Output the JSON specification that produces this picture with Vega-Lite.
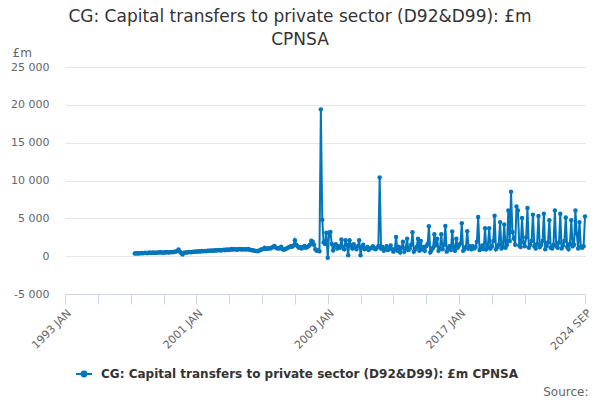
{
  "$schema": "https://vega.github.io/schema/vega-lite/v6.json",
  "width": 520,
  "height": 227,
  "autosize": {"type": "none"},
  "padding": {"left": 65, "top": 67, "right": 15, "bottom": 106},
  "background": "white",
  "title": {
    "text": ["CG: Capital transfers to private sector (D92&D99): £m", "CPNSA"],
    "font": "DejaVu Sans",
    "fontSize": 17,
    "fontWeight": "normal",
    "color": "#333333",
    "anchor": "middle",
    "dx": -25,
    "offset": -3,
    "lineHeight": 23
  },
  "config": {
    "view": {"stroke": null},
    "font": "DejaVu Sans"
  },
  "data": {
    "values": [
      {"month": "1997-04", "value": 350}, {"month": "1997-05", "value": 380}, {"month": "1997-06", "value": 340},
      {"month": "1997-07", "value": 400}, {"month": "1997-08", "value": 370}, {"month": "1997-09", "value": 420},
      {"month": "1997-10", "value": 390}, {"month": "1997-11", "value": 410}, {"month": "1997-12", "value": 450},
      {"month": "1998-01", "value": 400}, {"month": "1998-02", "value": 430}, {"month": "1998-03", "value": 480},
      {"month": "1998-04", "value": 420}, {"month": "1998-05", "value": 450}, {"month": "1998-06", "value": 470},
      {"month": "1998-07", "value": 430}, {"month": "1998-08", "value": 460}, {"month": "1998-09", "value": 500},
      {"month": "1998-10", "value": 470}, {"month": "1998-11", "value": 520}, {"month": "1998-12", "value": 480},
      {"month": "1999-01", "value": 460}, {"month": "1999-02", "value": 490}, {"month": "1999-03", "value": 550},
      {"month": "1999-04", "value": 500}, {"month": "1999-05", "value": 470}, {"month": "1999-06", "value": 520},
      {"month": "1999-07", "value": 560}, {"month": "1999-08", "value": 530}, {"month": "1999-09", "value": 600},
      {"month": "1999-10", "value": 580}, {"month": "1999-11", "value": 700}, {"month": "1999-12", "value": 880},
      {"month": "2000-01", "value": 600}, {"month": "2000-02", "value": 400}, {"month": "2000-03", "value": 220},
      {"month": "2000-04", "value": 450}, {"month": "2000-05", "value": 500}, {"month": "2000-06", "value": 480},
      {"month": "2000-07", "value": 520}, {"month": "2000-08", "value": 550}, {"month": "2000-09", "value": 530},
      {"month": "2000-10", "value": 560}, {"month": "2000-11", "value": 600}, {"month": "2000-12", "value": 580},
      {"month": "2001-01", "value": 620}, {"month": "2001-02", "value": 600}, {"month": "2001-03", "value": 650},
      {"month": "2001-04", "value": 620}, {"month": "2001-05", "value": 680}, {"month": "2001-06", "value": 640},
      {"month": "2001-07", "value": 700}, {"month": "2001-08", "value": 660}, {"month": "2001-09", "value": 720},
      {"month": "2001-10", "value": 690}, {"month": "2001-11", "value": 740}, {"month": "2001-12", "value": 700},
      {"month": "2002-01", "value": 760}, {"month": "2002-02", "value": 720}, {"month": "2002-03", "value": 800},
      {"month": "2002-04", "value": 740}, {"month": "2002-05", "value": 780}, {"month": "2002-06", "value": 820},
      {"month": "2002-07", "value": 760}, {"month": "2002-08", "value": 800}, {"month": "2002-09", "value": 850},
      {"month": "2002-10", "value": 780}, {"month": "2002-11", "value": 880}, {"month": "2002-12", "value": 820},
      {"month": "2003-01", "value": 880}, {"month": "2003-02", "value": 850}, {"month": "2003-03", "value": 950},
      {"month": "2003-04", "value": 870}, {"month": "2003-05", "value": 900}, {"month": "2003-06", "value": 920},
      {"month": "2003-07", "value": 860}, {"month": "2003-08", "value": 900}, {"month": "2003-09", "value": 940},
      {"month": "2003-10", "value": 880}, {"month": "2003-11", "value": 920}, {"month": "2003-12", "value": 900},
      {"month": "2004-01", "value": 880}, {"month": "2004-02", "value": 900}, {"month": "2004-03", "value": 950},
      {"month": "2004-04", "value": 850}, {"month": "2004-05", "value": 820}, {"month": "2004-06", "value": 780},
      {"month": "2004-07", "value": 750}, {"month": "2004-08", "value": 700}, {"month": "2004-09", "value": 680},
      {"month": "2004-10", "value": 650}, {"month": "2004-11", "value": 750}, {"month": "2004-12", "value": 850},
      {"month": "2005-01", "value": 900}, {"month": "2005-02", "value": 950}, {"month": "2005-03", "value": 1100},
      {"month": "2005-04", "value": 950}, {"month": "2005-05", "value": 1000}, {"month": "2005-06", "value": 1050},
      {"month": "2005-07", "value": 1000}, {"month": "2005-08", "value": 1100}, {"month": "2005-09", "value": 1200},
      {"month": "2005-10", "value": 1350}, {"month": "2005-11", "value": 1150}, {"month": "2005-12", "value": 1050},
      {"month": "2006-01", "value": 1000}, {"month": "2006-02", "value": 1050}, {"month": "2006-03", "value": 1250},
      {"month": "2006-04", "value": 900}, {"month": "2006-05", "value": 850}, {"month": "2006-06", "value": 950},
      {"month": "2006-07", "value": 1000}, {"month": "2006-08", "value": 1100}, {"month": "2006-09", "value": 1200},
      {"month": "2006-10", "value": 1300}, {"month": "2006-11", "value": 1250}, {"month": "2006-12", "value": 1400},
      {"month": "2007-01", "value": 2100}, {"month": "2007-02", "value": 1500}, {"month": "2007-03", "value": 1300},
      {"month": "2007-04", "value": 1100}, {"month": "2007-05", "value": 1200}, {"month": "2007-06", "value": 1000},
      {"month": "2007-07", "value": 1150}, {"month": "2007-08", "value": 1350}, {"month": "2007-09", "value": 1100},
      {"month": "2007-10", "value": 1200}, {"month": "2007-11", "value": 1300}, {"month": "2007-12", "value": 1500},
      {"month": "2008-01", "value": 2050}, {"month": "2008-02", "value": 1900}, {"month": "2008-03", "value": 1500},
      {"month": "2008-04", "value": 900}, {"month": "2008-05", "value": 700}, {"month": "2008-06", "value": 800},
      {"month": "2008-07", "value": 650}, {"month": "2008-08", "value": 19400}, {"month": "2008-09", "value": 4800},
      {"month": "2008-10", "value": 1800}, {"month": "2008-11", "value": 1600}, {"month": "2008-12", "value": 3100},
      {"month": "2009-01", "value": -200}, {"month": "2009-02", "value": 3100}, {"month": "2009-03", "value": 3200},
      {"month": "2009-04", "value": 1600}, {"month": "2009-05", "value": 790}, {"month": "2009-06", "value": 1400},
      {"month": "2009-07", "value": 1580}, {"month": "2009-08", "value": 1000}, {"month": "2009-09", "value": 1300},
      {"month": "2009-10", "value": 1100}, {"month": "2009-11", "value": 2200}, {"month": "2009-12", "value": 1200},
      {"month": "2010-01", "value": 900}, {"month": "2010-02", "value": 2100}, {"month": "2010-03", "value": 1500},
      {"month": "2010-04", "value": 130}, {"month": "2010-05", "value": 2100}, {"month": "2010-06", "value": 1400},
      {"month": "2010-07", "value": 1000}, {"month": "2010-08", "value": 1580}, {"month": "2010-09", "value": 1200},
      {"month": "2010-10", "value": 900}, {"month": "2010-11", "value": 1300}, {"month": "2010-12", "value": 2100},
      {"month": "2011-01", "value": 130}, {"month": "2011-02", "value": 1230}, {"month": "2011-03", "value": 1500},
      {"month": "2011-04", "value": 900}, {"month": "2011-05", "value": 1000}, {"month": "2011-06", "value": 1200},
      {"month": "2011-07", "value": 800}, {"month": "2011-08", "value": 1000}, {"month": "2011-09", "value": 1100},
      {"month": "2011-10", "value": 1300}, {"month": "2011-11", "value": 1000}, {"month": "2011-12", "value": 900},
      {"month": "2012-01", "value": 1100}, {"month": "2012-02", "value": 1300}, {"month": "2012-03", "value": 10400},
      {"month": "2012-04", "value": 1000}, {"month": "2012-05", "value": 1200}, {"month": "2012-06", "value": 700},
      {"month": "2012-07", "value": 900}, {"month": "2012-08", "value": 1300}, {"month": "2012-09", "value": 800},
      {"month": "2012-10", "value": 1100}, {"month": "2012-11", "value": 1400}, {"month": "2012-12", "value": 900},
      {"month": "2013-01", "value": 600}, {"month": "2013-02", "value": 900}, {"month": "2013-03", "value": 2540},
      {"month": "2013-04", "value": 700}, {"month": "2013-05", "value": 1200}, {"month": "2013-06", "value": 500},
      {"month": "2013-07", "value": 1100}, {"month": "2013-08", "value": 1900}, {"month": "2013-09", "value": 600},
      {"month": "2013-10", "value": 1000}, {"month": "2013-11", "value": 2300}, {"month": "2013-12", "value": 800},
      {"month": "2014-01", "value": 1000}, {"month": "2014-02", "value": 1500}, {"month": "2014-03", "value": 3150},
      {"month": "2014-04", "value": 600}, {"month": "2014-05", "value": 900}, {"month": "2014-06", "value": 1200},
      {"month": "2014-07", "value": 2300}, {"month": "2014-08", "value": 700}, {"month": "2014-09", "value": 2000},
      {"month": "2014-10", "value": 900}, {"month": "2014-11", "value": 1200}, {"month": "2014-12", "value": 700},
      {"month": "2015-01", "value": 1300}, {"month": "2015-02", "value": 1600}, {"month": "2015-03", "value": 3950},
      {"month": "2015-04", "value": 500}, {"month": "2015-05", "value": 800}, {"month": "2015-06", "value": 1100},
      {"month": "2015-07", "value": 2900}, {"month": "2015-08", "value": 1400}, {"month": "2015-09", "value": 2300},
      {"month": "2015-10", "value": 700}, {"month": "2015-11", "value": 1000}, {"month": "2015-12", "value": 2900},
      {"month": "2016-01", "value": 900}, {"month": "2016-02", "value": 1500}, {"month": "2016-03", "value": 4000},
      {"month": "2016-04", "value": 600}, {"month": "2016-05", "value": 1000}, {"month": "2016-06", "value": 1300},
      {"month": "2016-07", "value": 800}, {"month": "2016-08", "value": 3250}, {"month": "2016-09", "value": 1200},
      {"month": "2016-10", "value": 700}, {"month": "2016-11", "value": 2300}, {"month": "2016-12", "value": 1100},
      {"month": "2017-01", "value": 1400}, {"month": "2017-02", "value": 1700}, {"month": "2017-03", "value": 4350},
      {"month": "2017-04", "value": 700}, {"month": "2017-05", "value": 900}, {"month": "2017-06", "value": 1200},
      {"month": "2017-07", "value": 3290}, {"month": "2017-08", "value": 1000}, {"month": "2017-09", "value": 1300},
      {"month": "2017-10", "value": 900}, {"month": "2017-11", "value": 1300}, {"month": "2017-12", "value": 1000},
      {"month": "2018-01", "value": 1200}, {"month": "2018-02", "value": 1900}, {"month": "2018-03", "value": 5170},
      {"month": "2018-04", "value": 800}, {"month": "2018-05", "value": 1000}, {"month": "2018-06", "value": 1400},
      {"month": "2018-07", "value": 900}, {"month": "2018-08", "value": 3690}, {"month": "2018-09", "value": 900},
      {"month": "2018-10", "value": 1200}, {"month": "2018-11", "value": 3690}, {"month": "2018-12", "value": 1000},
      {"month": "2019-01", "value": 1300}, {"month": "2019-02", "value": 2000}, {"month": "2019-03", "value": 5350},
      {"month": "2019-04", "value": 900}, {"month": "2019-05", "value": 1200}, {"month": "2019-06", "value": 1500},
      {"month": "2019-07", "value": 4500}, {"month": "2019-08", "value": 1000}, {"month": "2019-09", "value": 1200},
      {"month": "2019-10", "value": 4200}, {"month": "2019-11", "value": 1100}, {"month": "2019-12", "value": 1500},
      {"month": "2020-01", "value": 6050}, {"month": "2020-02", "value": 2000}, {"month": "2020-03", "value": 8500},
      {"month": "2020-04", "value": 3200}, {"month": "2020-05", "value": 2330}, {"month": "2020-06", "value": 1500},
      {"month": "2020-07", "value": 6580}, {"month": "2020-08", "value": 6050}, {"month": "2020-09", "value": 1400},
      {"month": "2020-10", "value": 1200}, {"month": "2020-11", "value": 5050}, {"month": "2020-12", "value": 1800},
      {"month": "2021-01", "value": 1300}, {"month": "2021-02", "value": 2500}, {"month": "2021-03", "value": 6360},
      {"month": "2021-04", "value": 1100}, {"month": "2021-05", "value": 1500}, {"month": "2021-06", "value": 2000},
      {"month": "2021-07", "value": 5480}, {"month": "2021-08", "value": 1300}, {"month": "2021-09", "value": 1000},
      {"month": "2021-10", "value": 1600}, {"month": "2021-11", "value": 5300}, {"month": "2021-12", "value": 1200},
      {"month": "2022-01", "value": 1500}, {"month": "2022-02", "value": 2000}, {"month": "2022-03", "value": 5620},
      {"month": "2022-04", "value": 900}, {"month": "2022-05", "value": 1300}, {"month": "2022-06", "value": 1800},
      {"month": "2022-07", "value": 4740}, {"month": "2022-08", "value": 1100}, {"month": "2022-09", "value": 1000},
      {"month": "2022-10", "value": 1500}, {"month": "2022-11", "value": 6050}, {"month": "2022-12", "value": 1300},
      {"month": "2023-01", "value": 1100}, {"month": "2023-02", "value": 1800}, {"month": "2023-03", "value": 5620},
      {"month": "2023-04", "value": 1000}, {"month": "2023-05", "value": 1400}, {"month": "2023-06", "value": 2000},
      {"month": "2023-07", "value": 5100}, {"month": "2023-08", "value": 1200}, {"month": "2023-09", "value": 900},
      {"month": "2023-10", "value": 1600}, {"month": "2023-11", "value": 4740}, {"month": "2023-12", "value": 1300},
      {"month": "2024-01", "value": 1500}, {"month": "2024-02", "value": 6050}, {"month": "2024-03", "value": 3000},
      {"month": "2024-04", "value": 1000}, {"month": "2024-05", "value": 4500}, {"month": "2024-06", "value": 1200},
      {"month": "2024-07", "value": 1100}, {"month": "2024-08", "value": 1300}, {"month": "2024-09", "value": 5260}
    ]
  },
  "mark": {
    "type": "line",
    "strokeWidth": 2,
    "point": {"filled": true, "size": 20}
  },
  "encoding": {
    "x": {
      "field": "month",
      "type": "temporal",
      "scale": {
        "type": "utc",
        "domain": [
          {"year": 1993, "month": 1, "date": 1, "utc": true},
          {"year": 2024, "month": 9, "date": 1, "utc": true}
        ]
      },
      "axis": {
        "title": "Source:",
        "titleAngle": 0,
        "titleAlign": "right",
        "titleBaseline": "middle",
        "titleX": 523,
        "titleY": 97,
        "titleFontSize": 12,
        "titleFontWeight": "normal",
        "titleColor": "#666666",
        "values": [
          {"year": 1993, "month": 1, "date": 1, "utc": true},
          {"year": 1995, "month": 1, "date": 1, "utc": true},
          {"year": 1997, "month": 1, "date": 1, "utc": true},
          {"year": 1999, "month": 1, "date": 1, "utc": true},
          {"year": 2001, "month": 1, "date": 1, "utc": true},
          {"year": 2003, "month": 1, "date": 1, "utc": true},
          {"year": 2005, "month": 1, "date": 1, "utc": true},
          {"year": 2007, "month": 1, "date": 1, "utc": true},
          {"year": 2009, "month": 1, "date": 1, "utc": true},
          {"year": 2011, "month": 1, "date": 1, "utc": true},
          {"year": 2013, "month": 1, "date": 1, "utc": true},
          {"year": 2015, "month": 1, "date": 1, "utc": true},
          {"year": 2017, "month": 1, "date": 1, "utc": true},
          {"year": 2019, "month": 1, "date": 1, "utc": true},
          {"year": 2021, "month": 1, "date": 1, "utc": true},
          {"year": 2024, "month": 9, "date": 1, "utc": true}
        ],
        "labelExpr": "utcmonth(datum.value) == 8 ? '2024 SEP' : ((utcyear(datum.value) - 1993) % 8 == 0 ? utcyear(datum.value) + ' JAN' : '')",
        "labelAngle": -45,
        "labelFontSize": 11,
        "labelColor": "#666666",
        "labelOverlap": false,
        "labelFlush": false,
        "labelBound": false,
        "labelPadding": 3,
        "grid": false,
        "domainColor": "#ccd6eb",
        "tickColor": "#ccd6eb",
        "tickSize": 10
      }
    },
    "y": {
      "field": "value",
      "type": "quantitative",
      "scale": {"domain": [-5000, 25000], "nice": false},
      "axis": {
        "title": "£m",
        "titleAngle": 0,
        "titleAlign": "left",
        "titleBaseline": "middle",
        "titleX": -53,
        "titleY": -15,
        "titleFontSize": 12,
        "titleFontWeight": "normal",
        "titleColor": "#666666",
        "values": [-5000, 0, 5000, 10000, 15000, 20000, 25000],
        "labelExpr": "datum.value < 0 ? '-' + replace(format(-datum.value, ','), ',', ' ') : replace(format(datum.value, ','), ',', ' ')",
        "labelFontSize": 11,
        "labelColor": "#666666",
        "labelPadding": 16,
        "ticks": false,
        "domain": false,
        "gridColor": "#e6e6e6"
      }
    },
    "color": {
      "datum": "CG: Capital transfers to private sector (D92&D99): £m CPNSA",
      "type": "nominal",
      "scale": {"range": ["#0076bc"]},
      "legend": {
        "title": null,
        "orient": "none",
        "legendX": 10,
        "legendY": 298,
        "symbolType": "M-1,0H1M-0.3,0A0.3,0.3 0 1,0 0.3,0A0.3,0.3 0 1,0 -0.3,0Z",
        "symbolSize": 256,
        "symbolStrokeWidth": 2,
        "labelFontSize": 12,
        "labelFontWeight": "bold",
        "labelColor": "#333333",
        "labelLimit": 600,
        "labelOffset": 8,
        "encode": {"symbols": {"update": {"fill": {"value": "#0076bc"}, "stroke": {"value": "#0076bc"}}}}
      }
    }
  }
}
